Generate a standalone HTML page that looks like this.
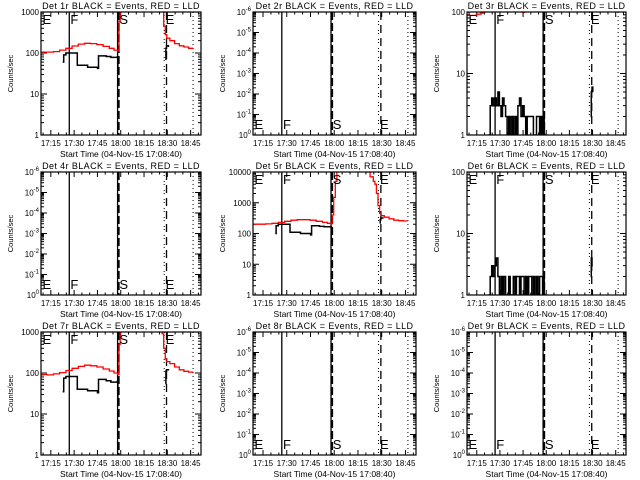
<!DOCTYPE html>
<html><head><meta charset="utf-8">
<style>
html,body{margin:0;padding:0;background:#fff;}
svg{display:block;}
text{font-family:"Liberation Sans",sans-serif;fill:#000;}
</style></head>
<body>
<svg id="chart" xmlns="http://www.w3.org/2000/svg" width="640" height="480" viewBox="0 0 640 480">
<rect width="640" height="480" fill="#fff"/>
</svg>
<script>
// ---- data (time in minutes after 17:08:40) ----
const xTickLabels = ["17:15","17:30","17:45","18:00","18:15","18:30","18:45"];
const xTickTimes = [6.33,21.33,36.33,51.33,66.33,81.33,96.33];
const markerLetters = ["E","F","S","E"];
const markerTimes = [0.3,18.3,49.8,79.6];

const p1RedT = [0,4,8,12,16,20,24,28,32,36,40,44,47,49.3,50.2,51,77,78,79,80,81,83,86,89,92,95,97.5];
const p1RedV = [105,105,108,118,130,148,165,172,170,160,145,130,118,112,600,3000,3000,1100,450,280,230,200,170,150,140,130,125];
const p1BlkT = [14,14.6,16,23.4,30,36.4,37,42,45,49.2,49.5,null,80,80.4,80.8,82];
const p1BlkV = [60,90,100,50,45,42,85,82,78,80,30,null,70,130,150,140];

const p3RedT = [0,3,6,9,11,12,null,34,35,36,37,38,null,95.5,96.5];
const p3RedV = [88,88,92,96,100,110,null,110,100,98,100,110,null,110,100];
const p3BlkT = [14,15,16,17,18,19,20,21,22,23,24,25,26,27,28,29,30,31,32,33,34,35,36,37,38,39,40,41,42,43,44,45,46,47,48,49,50,null,80,80.5,81,81.5];
const p3BlkV = [1,3,4,3,4,3,5,3,2,4,3,2,1,2,1,2,1,2,1,3,4,2,3,2,1,2,2,2,2,1,1,2,2,1,2,1,2,null,2,5,6,5];

const p5RedT = [0,4,8,12,16,20,24,28,32,36,40,44,47,49.3,50,51,52,53,54,70,72,74,76,77,78,79,80,81,83,86,89,92,95,97.5];
const p5RedV = [200,200,205,215,230,250,270,280,280,270,250,230,215,205,400,1500,5000,10000,15000,15000,10000,7000,5000,4000,2000,800,450,380,340,300,270,260,255,250];
const p5BlkT = [14,14.6,16,23.4,30,36.4,37,42,45,49.2,49.5,null,80,80.4,80.8,82];
const p5BlkV = [100,180,200,110,100,90,180,170,165,165,60,null,220,280,320,300];

const p6BlkT = [14,15,16,17,18,19,20,21,22,23,24,25,26,27,28,29,30,31,32,33,34,35,36,37,38,39,40,41,42,43,44,45,46,47,48,49,50,null,80,80.5,81,81.5];
const p6BlkV = [1,2,3,2,3,4,2,1,2,1,2,1,1,2,1,1,2,1,2,2,1,2,2,1,2,1,2,2,1,2,1,2,1,2,2,1,2,null,2,4,3,3];

const p7RedT = [0,4,8,12,16,20,24,28,32,36,40,44,47,49.3,50.2,51,77,78,79,80,81,83,86,89,92,95,97.5];
const p7RedV = [92,90,95,102,115,130,145,155,150,140,125,112,100,92,500,2500,2500,900,400,220,190,170,140,120,110,105,100];
const p7BlkT = [14,14.6,16,23.4,30,36.4,37,42,45,49.2,49.5,null,80,80.4,80.8,82];
const p7BlkV = [35,75,82,40,37,33,70,65,60,62,25,null,55,110,120,115];

const panels = [
 {det:1,yMin:1,yMax:1000,exp:false,top:true, red:[p1RedT,p1RedV],blk:[p1BlkT,p1BlkV]},
 {det:2,yMin:1,yMax:1e6,exp:true,top:false},
 {det:3,yMin:1,yMax:100,exp:false,top:true, red:[p3RedT,p3RedV],blk:[p3BlkT,p3BlkV]},
 {det:4,yMin:1,yMax:1e6,exp:true,top:false},
 {det:5,yMin:1,yMax:10000,exp:false,top:true, red:[p5RedT,p5RedV],blk:[p5BlkT,p5BlkV]},
 {det:6,yMin:1,yMax:100,exp:false,top:true, blk:[p6BlkT,p6BlkV]},
 {det:7,yMin:1,yMax:1000,exp:false,top:true, red:[p7RedT,p7RedV],blk:[p7BlkT,p7BlkV]},
 {det:8,yMin:1,yMax:1e6,exp:true,top:false},
 {det:9,yMin:1,yMax:1e6,exp:true,top:false}
];
const colL=[41,253,467], colR=[201,416,626], rowT=[12,172,332], rowB=[135,295,455];
const T_MAX=103;
const NS="http://www.w3.org/2000/svg";
const svg=document.getElementById('chart');
function mk(tag,attrs,parent){const e=document.createElementNS(NS,tag);for(const k in attrs)e.setAttribute(k,attrs[k]);(parent||svg).appendChild(e);return e;}

panels.forEach((p,i)=>{
  const c=i%3,r=Math.floor(i/3);
  const L=colL[c],R=colR[c],T=rowT[r],B=rowB[r];
  const xs=t=>L+(R-L)*t/T_MAX;
  const ly0=Math.log10(p.yMin),ly1=Math.log10(p.yMax);
  const ys=v=>B-(B-T)*(Math.log10(v)-ly0)/(ly1-ly0);
  const g=mk('g',{});
  
  
  const cp=mk('clipPath',{id:'cp'+i},g);
  mk('rect',{x:L,y:T,width:R-L,height:B-T},cp);
  const ti=mk('text',{x:(L+R)/2,y:T-3,'font-size':9,'letter-spacing':0.4,'text-anchor':'middle'},g);
  ti.textContent='Det '+p.det+'r BLACK = Events, RED = LLD';
  
  
  const xl=mk('text',{x:(L+R)/2,y:B+22,'font-size':8.5,'text-anchor':'middle'},g);
  xl.textContent='Start Time (04-Nov-15 17:08:40)';
  
  
  const yl=mk('text',{x:0,y:0,'font-size':7.5,'text-anchor':'middle',transform:'translate('+(L-28)+','+((T+B)/2)+') rotate(-90)'},g);
  yl.textContent='Counts/sec';
  
  
  for(let m=1.33;m<T_MAX;m+=5){
    const x=xs(m);const maj=Math.abs(((m-6.33)%15+15)%15)<0.1;const len=maj?5:2.5;
    mk('line',{x1:x,x2:x,y1:B,y2:B-len,stroke:'#000','stroke-width':1},g);
    mk('line',{x1:x,x2:x,y1:T,y2:T+len,stroke:'#000','stroke-width':1},g);
  }
  xTickLabels.forEach((lab,k)=>{
    const t=mk('text',{x:xs(xTickTimes[k]),y:B+11,'font-size':8,'text-anchor':'middle'},g);
    t.textContent=lab;
    
    
  });
  for(let d=ly0;d<=ly1;d++){
    const y=ys(Math.pow(10,d));
    mk('line',{x1:L,x2:L+6,y1:y,y2:y,stroke:'#000','stroke-width':1},g);
    mk('line',{x1:R,x2:R-6,y1:y,y2:y,stroke:'#000','stroke-width':1},g);
    const t=mk('text',{x:L-2,y:y+3,'font-size':8,'text-anchor':'end'},g);
    if(p.exp){
      t.textContent='10';
      const s=mk('tspan',{dy:-4,'font-size':6},t);
      s.textContent=(d===0?'0':'-'+d);
    } else t.textContent=String(Math.pow(10,d));
    
    
    if(d<ly1)for(let k=2;k<10;k++){
      const yy=ys(k*Math.pow(10,d));
      mk('line',{x1:L,x2:L+3,y1:yy,y2:yy,stroke:'#000','stroke-width':1},g);
      mk('line',{x1:R,x2:R-3,y1:yy,y2:yy,stroke:'#000','stroke-width':1},g);
    }
  }
  const vg=mk('g',{'clip-path':'url(#cp'+i+')'},g);
  
  
  mk('line',{x1:xs(18.2),x2:xs(18.2),y1:T,y2:B,stroke:'#000','stroke-width':1.3},vg);
  mk('line',{x1:xs(49.3),x2:xs(49.3),y1:T,y2:B,stroke:'#000','stroke-width':1.3},vg);
  mk('line',{x1:xs(50),x2:xs(50),y1:T,y2:B,stroke:'#000','stroke-width':2,'stroke-dasharray':'8,3'},vg);
  mk('line',{x1:xs(79.3),x2:xs(79.3),y1:T,y2:B,stroke:'#000','stroke-width':1,'stroke-dasharray':'1,2,1,5'},vg);
  mk('line',{x1:xs(80.8),x2:xs(80.8),y1:T,y2:B,stroke:'#000','stroke-width':1.3,'stroke-dasharray':'8,5'},vg);
  mk('line',{x1:xs(97.9),x2:xs(97.9),y1:T,y2:B,stroke:'#000','stroke-width':1,'stroke-dasharray':'1,3'},vg);
  function step(arr,color,w,name){
    const [tt,vv]=arr;let d='';let pen=false;
    for(let k=0;k<tt.length;k++){
      if(tt[k]===null){pen=false;continue;}
      const x=xs(tt[k]),y=ys(vv[k]);
      if(!pen){d+='M'+x.toFixed(1)+','+y.toFixed(1);pen=true;}
      else d+='H'+x.toFixed(1)+'V'+y.toFixed(1);
    }
    const pa=mk('path',{d:d,fill:'none',stroke:color,'stroke-width':w,'clip-path':'url(#cp'+i+')'},g);
    
    
  }
  if(p.red)step(p.red,'#ff0000',1.3,'lld-series');
  if(p.blk)step(p.blk,'#000',1.5,'events-series');
  markerLetters.forEach((lt,k)=>{
    const t=mk('text',{x:xs(markerTimes[k])+1,y:p.top?T+12:B-6,'font-size':13},g);
    t.textContent=lt;
    
    
  });
  const fr=mk('rect',{x:L,y:T,width:R-L,height:B-T,fill:'none',stroke:'#000','stroke-width':1.2},g);
  
  
});
</script>
</body></html>
